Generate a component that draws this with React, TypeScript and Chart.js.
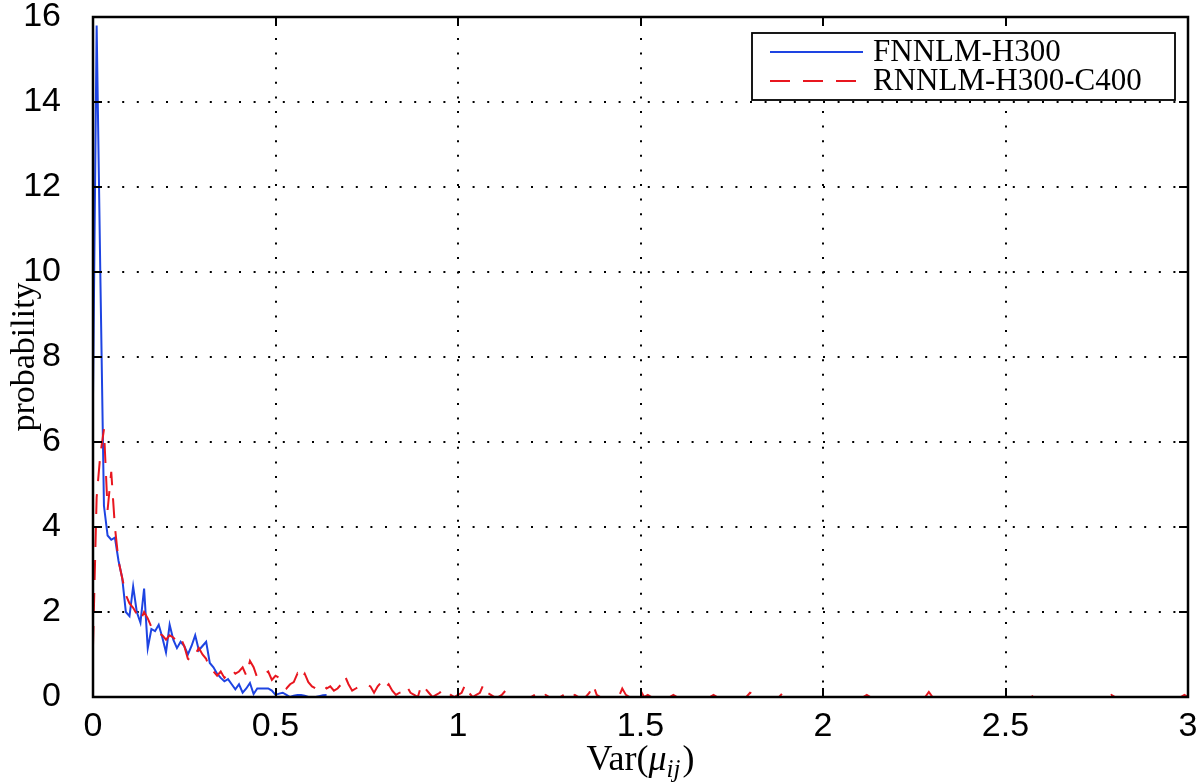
import React, { useEffect, useRef } from 'react';
import { Chart, registerables } from 'chart.js';

Chart.register(...registerables);

// ---- data ----
const xMin = 0;
const xMax = 3;
const xStep = 0.5;
const yMin = 0;
const yMax = 16;
const yStep = 2;
const binWidth = 0.01;

const seriesLabels = ['FNNLM-H300', 'RNNLM-H300-C400'];

// FNNLM-H300 histogram density (bins of width 0.01 starting at 0)
const fnnlmValues = [
  7.1, 15.8, 10.0, 4.5, 3.8, 3.7, 3.75, 3.2, 2.8, 2.0,
  1.9, 2.6, 2.0, 1.75, 2.55, 1.15, 1.6, 1.55, 1.7, 1.4,
  1.05, 1.7, 1.35, 1.15, 1.3, 1.2, 1.0, 1.2, 1.45, 1.1,
  1.2, 1.3, 0.8, 0.7, 0.55, 0.45, 0.37, 0.42, 0.3, 0.18,
  0.3, 0.1, 0.2, 0.33, 0.07, 0.2, 0.2, 0.2, 0.2, 0.15,
  0.05, 0.08, 0.1, 0.05, 0, 0.03, 0.05, 0.05, 0.03, 0,
  0, 0, 0.02, 0.04, 0.05,
];

// RNNLM-H300-C400 histogram density (bins of width 0.01 starting at 0)
const rnnlmValues = [
  1.2, 4.7, 5.7, 6.3, 4.4, 5.3, 4.0, 3.2, 2.8, 2.4,
  2.2, 2.1, 1.95, 1.8, 2.0, 1.85, 1.65, 1.55, 1.5, 1.45,
  1.35, 1.45, 1.4, 1.3, 1.4, 1.2, 0.9, 0.85, 1.0, 1.15,
  1.0, 0.9, 0.65, 0.6, 0.5, 0.6, 0.45, 0.55, 0.65, 0.55,
  0.6, 0.7, 0.5, 0.85, 0.7, 0.45, 0.5, 0.55, 0.6, 0.4,
  0.5, 0.45, 0.3, 0.2, 0.3, 0.35, 0.55, 0.4, 0.55, 0.35,
  0.25, 0.2, 0.25, 0.3, 0.2, 0.25, 0.15, 0.2, 0.3, 0.5,
  0.3, 0.15, 0.2, 0.25, 0.3, 0.3, 0.25, 0.1, 0.25, 0.35,
  0.2, 0.3, 0.15, 0.05, 0.1, 0.1, 0.25, 0.1, 0.05, 0,
  0.3, 0.2, 0.1, 0, 0.05, 0.1, 0.2, 0.15, 0.05, 0,
  0.05, 0.1, 0.3, 0.1, 0, 0.05, 0.1, 0.3, 0.1, 0.05,
  0, 0, 0.05, 0.15, 0.05, 0, 0, 0, 0, 0,
  0, 0.05, 0.1, 0, 0.05, 0, 0, 0, 0, 0.05,
  0.1, 0, 0.05, 0, 0, 0, 0.1, 0.3, 0.05, 0,
  0, 0, 0, 0.05, 0, 0.2, 0.05, 0, 0, 0,
  0.15, 0, 0.05, 0, 0, 0, 0, 0, 0, 0.05,
  0, 0, 0, 0, 0, 0, 0, 0, 0, 0,
  0.05, 0, 0, 0, 0, 0, 0, 0, 0, 0,
  0.1, 0.05, 0, 0, 0, 0, 0, 0, 0, 0.1,
  0.15, 0, 0, 0, 0, 0, 0, 0, 0, 0.05,
  0, 0, 0, 0, 0, 0, 0, 0, 0, 0,
  0, 0, 0.05, 0, 0, 0, 0, 0, 0, 0,
  0, 0, 0, 0, 0, 0, 0, 0, 0, 0.12,
  0, 0, 0, 0, 0, 0, 0, 0, 0, 0,
  0, 0, 0, 0, 0, 0, 0, 0, 0, 0,
  0, 0, 0, 0, 0, 0, 0, 0, 0.05, 0,
  0, 0, 0, 0, 0, 0, 0, 0, 0, 0,
  0, 0, 0, 0, 0, 0, 0, 0, 0, 0.05,
  0, 0, 0, 0, 0, 0, 0, 0, 0, 0,
  0, 0, 0, 0, 0, 0, 0, 0, 0, 0.05,
  0,
];

const yAxisTitle = 'probability';
const xTitleParts = { head: 'Var(', symbol: 'μ', sub: 'ij', tail: ')' };

// ---- styles ----
const BLUE = '#1e44e2';
const RED = '#e8161f';
const SANS = '"Liberation Sans", Arial, Helvetica, sans-serif';
const SERIF = '"Liberation Serif", "Times New Roman", serif';

const toPoints = (vals: number[]) =>
  vals.map((y, i) => ({ x: Math.round(i * binWidth * 10000) / 10000, y }));

const framePlugin = {
  id: 'matlabFrame',
  beforeDatasetsDraw(chart: any) {
    const { ctx, chartArea: a, scales } = chart;
    ctx.save();
    ctx.strokeStyle = '#000';
    ctx.lineWidth = 2;
    ctx.setLineDash([2, 12.6]);
    scales.x.ticks.forEach((t: any) => {
      const px = Math.round(scales.x.getPixelForValue(t.value));
      if (px <= a.left + 1 || px >= a.right - 1) return;
      ctx.beginPath();
      ctx.moveTo(px, a.bottom);
      ctx.lineTo(px, a.top);
      ctx.stroke();
    });
    scales.y.ticks.forEach((t: any) => {
      const py = Math.round(scales.y.getPixelForValue(t.value));
      if (py <= a.top + 1 || py >= a.bottom - 1) return;
      ctx.beginPath();
      ctx.moveTo(a.left, py);
      ctx.lineTo(a.right, py);
      ctx.stroke();
    });
    ctx.restore();
  },
  afterDatasetsDraw(chart: any) {
    const { ctx, chartArea: a, scales } = chart;
    ctx.save();
    ctx.setLineDash([]);
    ctx.strokeStyle = '#000';
    // inward ticks on all four sides
    ctx.lineWidth = 2;
    const tl = 9;
    scales.x.ticks.forEach((t: any) => {
      const px = Math.round(scales.x.getPixelForValue(t.value));
      ctx.beginPath();
      ctx.moveTo(px, a.bottom);
      ctx.lineTo(px, a.bottom - tl);
      ctx.moveTo(px, a.top);
      ctx.lineTo(px, a.top + tl);
      ctx.stroke();
    });
    scales.y.ticks.forEach((t: any) => {
      const py = Math.round(scales.y.getPixelForValue(t.value));
      ctx.beginPath();
      ctx.moveTo(a.left, py);
      ctx.lineTo(a.left + tl, py);
      ctx.moveTo(a.right, py);
      ctx.lineTo(a.right - tl, py);
      ctx.stroke();
    });
    // box
    ctx.lineWidth = 2.5;
    ctx.strokeRect(a.left, a.top, a.right - a.left, a.bottom - a.top);

    // legend
    const lx1 = a.right - 436;
    const lx2 = a.right - 13;
    const ly1 = a.top + 16;
    const ly2 = a.top + 83;
    ctx.fillStyle = '#fff';
    ctx.fillRect(lx1, ly1, lx2 - lx1, ly2 - ly1);
    ctx.lineWidth = 1.8;
    ctx.strokeRect(lx1, ly1, lx2 - lx1, ly2 - ly1);
    const rows = [ly1 + 19, ly1 + 48];
    chart.data.datasets.forEach((ds: any, i: number) => {
      const y = rows[i];
      ctx.save();
      ctx.strokeStyle = ds.borderColor;
      ctx.lineWidth = 2;
      ctx.setLineDash(ds.borderDash || []);
      ctx.beginPath();
      ctx.moveTo(lx1 + 18, y);
      ctx.lineTo(lx1 + 111, y);
      ctx.stroke();
      ctx.restore();
      ctx.fillStyle = '#000';
      ctx.font = `31px ${SERIF}`;
      ctx.textAlign = 'left';
      ctx.textBaseline = 'middle';
      ctx.fillText(ds.label, lx1 + 121, y + 1);
    });

    // y title
    ctx.save();
    ctx.translate(25, (a.top + a.bottom) / 2);
    ctx.rotate(-Math.PI / 2);
    ctx.fillStyle = '#000';
    ctx.font = `34px ${SERIF}`;
    ctx.textAlign = 'center';
    ctx.textBaseline = 'middle';
    ctx.fillText(yAxisTitle, 0, 0);
    ctx.restore();

    // x title with subscript
    const fMain = `36px ${SERIF}`;
    const fIt = `italic 36px ${SERIF}`;
    const fSub = `italic 25px ${SERIF}`;
    ctx.font = fMain;
    const w1 = ctx.measureText(xTitleParts.head).width;
    const w4 = ctx.measureText(xTitleParts.tail).width;
    ctx.font = fIt;
    const w2 = ctx.measureText(xTitleParts.symbol).width;
    ctx.font = fSub;
    const w3 = ctx.measureText(xTitleParts.sub).width;
    const total = w1 + w2 + w3 + w4 + 2;
    let x = (a.left + a.right) / 2 - total / 2;
    const base = 770;
    ctx.fillStyle = '#000';
    ctx.textAlign = 'left';
    ctx.textBaseline = 'alphabetic';
    ctx.font = fMain;
    ctx.fillText(xTitleParts.head, x, base);
    x += w1;
    ctx.font = fIt;
    ctx.fillText(xTitleParts.symbol, x, base);
    x += w2;
    ctx.font = fSub;
    ctx.fillText(xTitleParts.sub, x, base + 7);
    x += w3 + 2;
    ctx.font = fMain;
    ctx.fillText(xTitleParts.tail, x, base);
    ctx.restore();
  },
};

export default function App() {
  const ref = useRef<HTMLCanvasElement | null>(null);
  useEffect(() => {
    if (!ref.current) return;
    const chart = new Chart(ref.current, {
      type: 'line',
      data: {
        datasets: [
          {
            label: seriesLabels[0],
            data: toPoints(fnnlmValues),
            borderColor: BLUE,
            backgroundColor: BLUE,
            borderWidth: 2,
            pointRadius: 0,
            fill: false,
            tension: 0,
            order: 1,
          },
          {
            label: seriesLabels[1],
            data: toPoints(rnnlmValues),
            borderColor: RED,
            backgroundColor: RED,
            borderWidth: 2,
            borderDash: [20, 13],
            pointRadius: 0,
            fill: false,
            tension: 0,
            order: 0,
          },
        ] as any,
      },
      options: {
        animation: false,
        responsive: false,
        devicePixelRatio: 1,
        layout: { padding: { top: 17, right: 12, left: 0, bottom: 0 } },
        plugins: { legend: { display: false }, tooltip: { enabled: false } },
        scales: {
          x: {
            type: 'linear',
            min: xMin,
            max: xMax,
            ticks: {
              stepSize: xStep,
              color: '#000',
              font: { family: SANS, size: 34 },
              padding: 9,
              maxRotation: 0,
              autoSkip: false,
              callback: (v: any) => String(v),
            },
            grid: { display: false, drawTicks: false },
            border: { display: false },
            afterFit: (s: any) => {
              s.height = 86;
              s.paddingLeft = 0;
              s.paddingRight = 0;
            },
          },
          y: {
            type: 'linear',
            min: yMin,
            max: yMax,
            ticks: {
              stepSize: yStep,
              color: '#000',
              font: { family: SANS, size: 34 },
              padding: 32,
              autoSkip: false,
              callback: (v: any) => String(v),
            },
            grid: { display: false, drawTicks: false },
            border: { display: false },
            afterFit: (s: any) => {
              s.width = 93;
              s.paddingTop = 0;
              s.paddingBottom = 0;
            },
          },
        },
      } as any,
      plugins: [framePlugin],
    });
    return () => chart.destroy();
  }, []);

  return (
    <div style={{ position: 'fixed', left: 0, top: 0, width: 1200, height: 783, background: '#fff' }}>
      <canvas ref={ref} width={1200} height={783} style={{ display: 'block', width: 1200, height: 783 }} />
    </div>
  );
}
